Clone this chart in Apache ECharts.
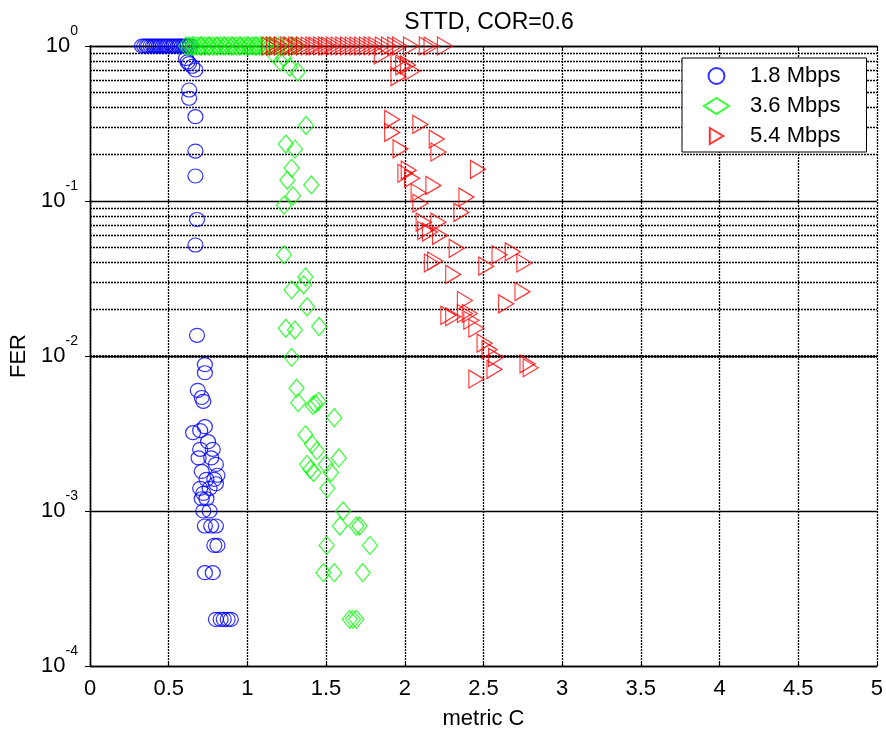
<!DOCTYPE html>
<html><head><meta charset="utf-8">
<script src="https://cdn.jsdelivr.net/npm/echarts@6/dist/echarts.min.js"></script>
<style>html,body{margin:0;padding:0;background:#fff}#c{width:886px;height:735px}</style>
</head><body><div id="c"></div>
<script>
const titleText = 'STTD, COR=0.6';
const xAxisName = 'metric C';
const yAxisName = 'FER';
const seriesNames = ['1.8 Mbps', '3.6 Mbps', '5.4 Mbps'];
const xMin = 0, xMax = 5, xStep = 0.5;
const yMin = 0.0001, yMax = 1;

// metric C values of points sitting at FER = 1
const sat18 = [0.33,0.345,0.36,0.37,0.385,0.40,0.41,0.425,0.44,0.45,0.465,0.48,0.49,0.505,0.52,0.53,0.545,0.56,0.57,0.585,0.60,0.61,0.62,0.635];
const sat36 = [0.61,0.63,0.65,0.66,0.68,0.70,0.71,0.73,0.75,0.76,0.78,0.80,0.81,0.83,0.85,0.86,0.88,0.90,0.91,0.93,0.95,0.96,0.98,1.00,1.01,1.03,1.05,1.06,1.08,1.10,1.12,1.14,1.17,1.20,1.24,1.28,1.31];
const sat54 = [1.14,1.17,1.19,1.22,1.26,1.28,1.31,1.33,1.36,1.39,1.42,1.44,1.47,1.50,1.52,1.55,1.58,1.61,1.64,1.67,1.70,1.73,1.76,1.79,1.82,1.86,1.90,1.94,1.97,2.04,2.14,2.17,2.255];

// [metric C, FER] points below FER = 1
const pts18 = [[0.61,0.83],[0.62,0.79],[0.63,0.77],[0.65,0.74],[0.67,0.70],
[0.63,0.52],[0.63,0.46],[0.67,0.35],[0.67,0.21],[0.67,0.145],[0.68,0.076],[0.67,0.052],
[0.68,0.0136],[0.73,0.0088],[0.73,0.0078],[0.685,0.0060],[0.71,0.0054],[0.72,0.0051],
[0.73,0.0035],[0.70,0.0033],[0.655,0.0032],[0.75,0.0028],[0.70,0.0025],[0.78,0.0025],[0.69,0.0022],[0.77,0.0022],[0.80,0.0020],[0.71,0.0018],[0.79,0.0016],[0.74,0.0016],[0.81,0.0017],[0.80,0.0015],[0.70,0.0014],[0.76,0.0014],[0.71,0.0012],[0.74,0.0012],[0.72,0.0013],[0.72,0.0010],[0.76,0.0010],[0.73,0.0008],[0.77,0.0008],[0.80,0.0008],[0.79,0.0006],[0.81,0.0006],[0.73,0.0004],[0.78,0.0004],[0.80,0.0002],[0.83,0.0002],[0.85,0.0002],[0.875,0.0002],[0.895,0.0002]];

const pts36 = [[1.17,0.88],[1.23,0.84],[1.21,0.79],[1.27,0.73],[1.32,0.68],
[1.373,0.307],[1.244,0.233],[1.302,0.216],[1.281,0.163],[1.254,0.136],[1.406,0.127],[1.29,0.108],[1.233,0.094],[1.233,0.045],[1.369,0.0323],[1.358,0.0288],[1.281,0.0267],[1.379,0.0208],[1.244,0.0151],[1.302,0.0147],[1.456,0.0155],[1.281,0.0098],[1.3125,0.0062],[1.323,0.0050],[1.415,0.0048],[1.452,0.0051],[1.431,0.0049],[1.552,0.0040],[1.369,0.0031],[1.41,0.0027],[1.442,0.00245],[1.581,0.0022],[1.379,0.0020],[1.40,0.00186],[1.421,0.00177],[1.498,0.0020],[1.531,0.00177],[1.508,0.0014],[1.608,0.0010],[1.5875,0.0008],[1.692,0.0008],[1.7125,0.0008],[1.504,0.0006],[1.779,0.0006],[1.483,0.0004],[1.552,0.0004],[1.733,0.0004],[1.65,0.0002],[1.671,0.0002],[1.692,0.0002]];

const pts54 = [[1.854,0.875],[1.96,0.80],[1.99,0.745],[2.02,0.755],[2.05,0.69],[1.96,0.635],
[1.92,0.336],[1.92,0.277],[2.099,0.312],[2.203,0.251],[2.214,0.207],[1.973,0.217],[2.465,0.16],[2.025,0.158],[2.004,0.151],[2.046,0.14],[2.182,0.126],[2.088,0.113],[2.392,0.106],[2.099,0.0967],[2.36,0.0844],[2.12,0.073],[2.214,0.073],[2.13,0.0645],[2.16,0.063],[2.224,0.06],[2.33,0.0495],[2.193,0.041],[2.172,0.0398],[2.308,0.0336],[2.518,0.038],[2.602,0.045],[2.686,0.047],[2.76,0.0398],[2.748,0.026],[2.644,0.0217],[2.382,0.0228],[2.277,0.0183],[2.308,0.0179],[2.382,0.0188],[2.413,0.0188],[2.423,0.017],[2.455,0.0151],[2.507,0.0121],[2.539,0.011],[2.58,0.0098],[2.57,0.0082],[2.78,0.0089],[2.80,0.0084],[2.455,0.0071]];

const FONT = 'Liberation Sans, Arial, sans-serif';
const minorGrid = [];
for (let e = -4; e < 0; e++) for (let m = 2; m <= 9; m++) minorGrid.push(+(m * Math.pow(10, e)).toPrecision(3));

function full(sat, pts) { return sat.map(x => [x, 1]).concat(pts); }
const dotted = { color: '#000', type: [2, 1], width: 1.3 };

const chart = echarts.init(document.getElementById('c'), null, { renderer: 'canvas' });
const triPath = 'path://M0,0 L10,6 L0,12 Z';
chart.setOption({
  animation: false,
  backgroundColor: '#fff',
  title: { text: titleText, left: 484, top: 6, textAlign: 'center',
    textStyle: { fontFamily: FONT, fontSize: 23, fontWeight: 'normal', color: '#000' } },
  grid: { left: 90, right: 8, top: 46, bottom: 65, containLabel: false },
  legend: {
    z: 20,
    data: seriesNames, orient: 'vertical', left: 682, top: 58,
    backgroundColor: '#fff', borderColor: '#000', borderWidth: 1, borderRadius: 0,
    padding: [7, 26, 5, 21], itemGap: 8, itemWidth: 25, itemHeight: 16,
    textStyle: { fontFamily: FONT, fontSize: 22, color: '#000', padding: [0, 0, 0, 16] }
  },
  xAxis: [{
    type: 'value', min: xMin, max: xMax, interval: xStep,
    name: xAxisName, nameLocation: 'middle', nameGap: 42,
    nameTextStyle: { fontFamily: FONT, fontSize: 22, color: '#000' },
    axisLine: { show: true, lineStyle: { color: '#000', width: 1.3 } },
    axisTick: { show: true, inside: true, length: 5, lineStyle: { color: '#000' } },
    axisLabel: { fontFamily: FONT, fontSize: 22, color: '#000', margin: 12 },
    splitLine: { show: true, lineStyle: dotted }
  }, {
    type: 'value', position: 'top', min: xMin, max: xMax, interval: xStep,
    axisLine: { show: true, lineStyle: { color: '#000', width: 1.3 } },
    axisTick: { show: true, inside: true, length: 5, lineStyle: { color: '#000' } },
    axisLabel: { show: false }, splitLine: { show: false }
  }],
  yAxis: [{
    type: 'log', logBase: 10, min: yMin, max: yMax,
    name: yAxisName, nameLocation: 'middle', nameGap: 56, nameRotate: 90,
    nameTextStyle: { fontFamily: FONT, fontSize: 22, color: '#000' },
    axisLine: { show: true, lineStyle: { color: '#000', width: 1.3 } },
    axisTick: { show: true, inside: true, length: 5, lineStyle: { color: '#000' } },
    axisLabel: {
      margin: 12,
      formatter: v => '{b|10}{s|' + Math.round(Math.log10(v)) + '}',
      rich: {
        b: { fontFamily: FONT, fontSize: 22, color: '#000', lineHeight: 44, verticalAlign: 'middle' },
        s: { fontFamily: FONT, fontSize: 14, color: '#000', lineHeight: 44, verticalAlign: 'top' }
      }
    },
    splitLine: { show: true, lineStyle: { color: '#000', width: 1.3, type: 'solid' } }
  }, {
    type: 'log', logBase: 10, min: yMin, max: yMax, position: 'right',
    axisLine: { show: true, lineStyle: { color: '#000', width: 1.3 } },
    axisTick: { show: true, inside: true, length: 5, lineStyle: { color: '#000' } },
    axisLabel: { show: false }, splitLine: { show: false }
  }],
  series: [
    { name: 'minor', type: 'scatter', data: [], silent: true, z: 1,
      markLine: { silent: true, z: 1, symbol: ['none', 'none'], label: { show: false },
        lineStyle: dotted, data: minorGrid.map(v => ({ yAxis: v })) } },
    { name: seriesNames[0], type: 'scatter', data: full(sat18, pts18), symbol: 'circle', symbolSize: [15, 14],
      itemStyle: { color: 'rgba(0,0,0,0)', borderColor: '#0000ff', borderWidth: 1.2 } },
    { name: seriesNames[1], type: 'scatter', data: full(sat36, pts36), symbol: 'diamond', symbolSize: [15, 18],
      itemStyle: { color: 'rgba(0,0,0,0)', borderColor: '#00ff00', borderWidth: 1.2 } },
    { name: seriesNames[2], type: 'scatter', data: full(sat54, pts54), symbol: triPath, symbolSize: [15, 18],
      itemStyle: { color: 'rgba(0,0,0,0)', borderColor: '#ff0000', borderWidth: 1.2 } }
  ]
});
</script></body></html>
